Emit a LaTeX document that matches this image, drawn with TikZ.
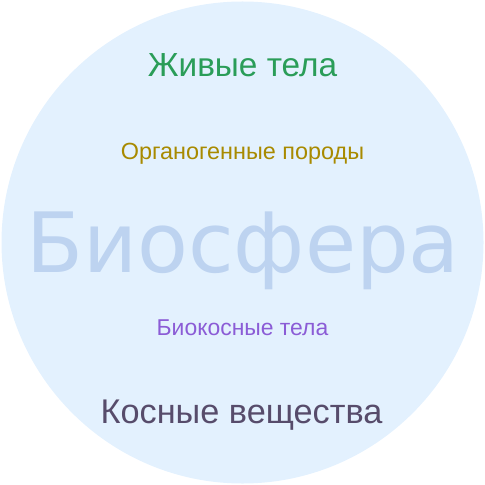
\documentclass[tikz,border=0pt]{standalone}
\usepackage{fontspec}
\setmainfont{Liberation Sans}
\newfontfamily\bigfont{DejaVu Sans}
\definecolor{circfill}{HTML}{E3F1FE}
\definecolor{biocol}{HTML}{BDD3F0}
\definecolor{livecol}{HTML}{2A9D58}
\definecolor{orgcol}{HTML}{A88A00}
\definecolor{biokcol}{HTML}{8B5CD6}
\definecolor{inertcol}{HTML}{574C6B}
\begin{document}
\begin{tikzpicture}[x=1bp,y=-1bp,
  lbl/.style={anchor=base,inner sep=0pt}]
\useasboundingbox (0,0) rectangle (485,485);
\fill[circfill] (242.5,242.5) circle[radius=241];
\node[lbl,text=biocol,font=\bigfont\fontsize{83.5}{90}\selectfont] (bio) at (243,272) {Биосфера};
\node[lbl,text=livecol,font=\fontsize{33.5}{38}\selectfont] (live) at (242.5,77) {Живые тела};
\node[lbl,text=orgcol,font=\fontsize{23.5}{28}\selectfont] (org) at (242.5,160) {Органогенные породы};
\node[lbl,text=biokcol,font=\fontsize{23}{28}\selectfont] (biok) at (242.5,335) {Биокосные тела};
\node[lbl,text=inertcol,font=\fontsize{34.4}{40}\selectfont] (inert) at (241.5,423) {Косные вещества};
\end{tikzpicture}
\end{document}
